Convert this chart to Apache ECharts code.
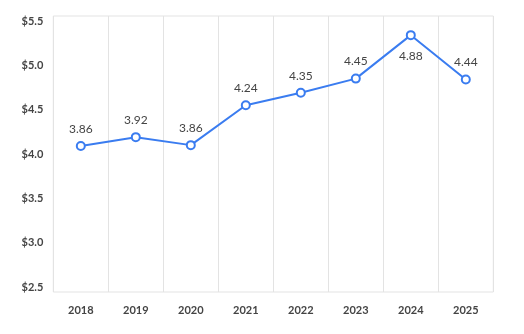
<!DOCTYPE html>
<html><head><meta charset="utf-8">
<script src="https://cdn.jsdelivr.net/npm/echarts@6/dist/echarts.min.js"></script>
<style>html,body{margin:0;padding:0;background:#fff}#c{width:524px;height:334px}</style>
</head><body><div id="c"></div>
<script>
var categories = ['2018','2019','2020','2021','2022','2023','2024','2025'];
var values = [4.09, 4.19, 4.10, 4.55, 4.69, 4.85, 5.34, 4.84];
var pointLabels = ['3.86','3.92','3.86','4.24','4.35','4.45','4.88','4.44'];
var yTicks = [2.5, 3.0, 3.5, 4.0, 4.5, 5.0, 5.5];

var chart = echarts.init(document.getElementById('c'));
var font = 'Lato, "Open Sans", sans-serif';
chart.setOption({
  animation: false,
  grid: {left: 53.3, right: 30.7, top: 16, bottom: 42, show: true, borderColor: '#e3e3e3', borderWidth: 1},
  xAxis: {
    type: 'category', data: categories, boundaryGap: true,
    axisLine: {show: false}, axisTick: {show: false},
    splitLine: {show: true, lineStyle: {color: '#e3e3e3', width: 1}},
    axisLabel: {color: '#444', fontFamily: font, fontSize: 11, fontWeight: 'bold', margin: 13}
  },
  yAxis: {
    type: 'value', min: 2.444, max: 5.556,
    axisLine: {show: false}, axisTick: {show: false}, splitLine: {show: false},
    axisLabel: {customValues: yTicks, color: '#444', fontFamily: font, fontSize: 11, fontWeight: 'bold', margin: 10,
      formatter: function (v) { return '$' + v.toFixed(1); }}
  },
  series: [{
    type: 'line',
    symbol: 'circle', symbolSize: 8,
    lineStyle: {color: '#3a7cf0', width: 2},
    itemStyle: {color: '#fff', borderColor: '#3a7cf0', borderWidth: 2},
    label: {
      show: true, position: 'top', distance: 6, color: '#444', fontFamily: font, fontSize: 12,
      formatter: function (p) { return pointLabels[p.dataIndex]; }
    },
    data: values.map(function (v, i) {
      return i === 6 ? {value: v, label: {position: 'bottom', distance: 10}} : v;
    })
  }]
});
</script></body></html>
